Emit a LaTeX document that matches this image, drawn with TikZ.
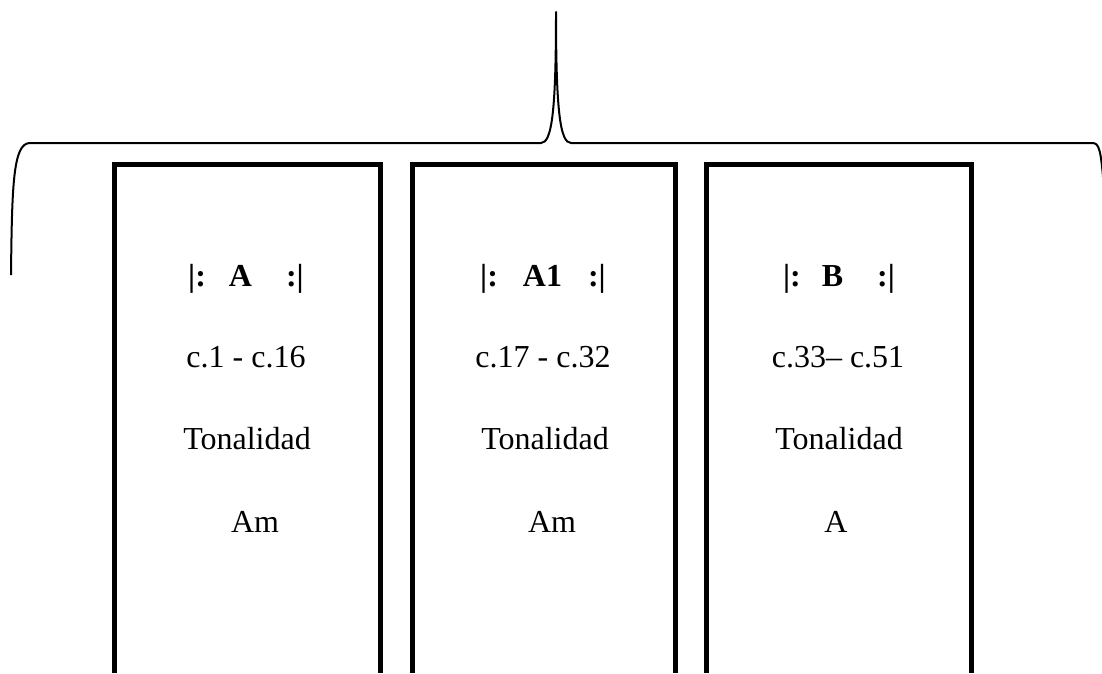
\documentclass[tikz,border=0pt]{standalone}
\usepackage{fontspec}
\setmainfont{Liberation Serif}
\begin{document}
\begin{tikzpicture}[x=1pt,y=-1pt,
  section/.style={line width=5pt, line join=miter, line cap=butt},
  bracestroke/.style={line width=2pt, line join=round},
  lbl/.style={inner sep=0pt, anchor=base, font=\fontsize{32}{36}\selectfont},
  bar/.style={lbl, font=\fontsize{32}{36}\selectfont\bfseries}]
\useasboundingbox (0,0) rectangle (1102,673);
\clip (0,0) rectangle (1102,673);
% overall brace grouping the three sections
\draw[bracestroke] (11,275) .. controls (12,185) and (13,143) .. (30,143)
  -- (541,143) .. controls (552,143) and (556,110) .. (556,12)
  .. controls (556,110) and (560,143) .. (571,143)
  -- (1092,143) .. controls (1099,143) and (1101,148) .. (1104,190) -- (1106,280);
% section frames, open at the bottom
\draw[section] (114.5,673) -- (114.5,164) -- (380,164) -- (380,673);
\draw[section] (412.5,673) -- (412.5,164) -- (675.5,164) -- (675.5,673);
\draw[section] (706.5,673) -- (706.5,164) -- (971.5,164) -- (971.5,673);
% section A
\node[bar] (a1) at (246,286) {|:\hspace{23pt}A\hspace{34pt}:|};
\node[lbl] (a2) at (246,367) {c.1 - c.16};
\node[lbl] (a3) at (247,449) {Tonalidad};
\node[lbl] (a4) at (255,532) {Am};
% section A1
\node[bar] (b1) at (543,286) {|:\hspace{25pt}A1\hspace{26pt}:|};
\node[lbl] (b2) at (543,367) {c.17 - c.32};
\node[lbl] (b3) at (545,449) {Tonalidad};
\node[lbl] (b4) at (552,532) {Am};
% section B
\node[bar] (c1) at (839,286) {|:\hspace{21pt}B\hspace{34pt}:|};
\node[lbl] (c2) at (838,367) {c.33– c.51};
\node[lbl] (c3) at (839,449) {Tonalidad};
\node[lbl] (c4) at (836,532) {A};
\end{tikzpicture}
\end{document}
